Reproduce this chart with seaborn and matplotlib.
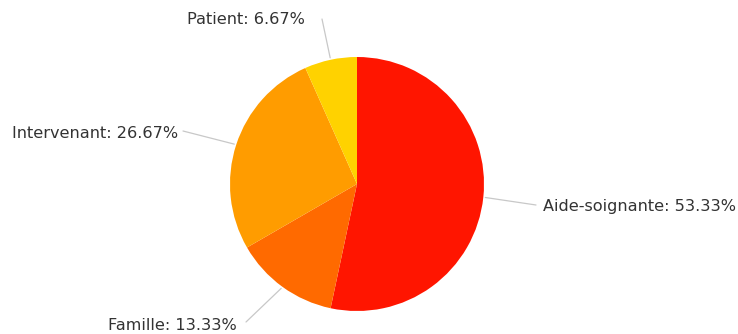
import numpy as np
import matplotlib
matplotlib.use("Agg")
import matplotlib.pyplot as plt
import seaborn as sns

# Data
categories = ['Aide-soignante', 'Famille', 'Intervenant', 'Patient']
counts = [8, 2, 4, 1]
colors = ['#ff1500', '#ff6a00', '#ff9c00', '#ffd200']

# label layout (pixel coords, y from top): text anchor, alignment, connector end
label_pos = [(543, 206, 'left'), (237, 325, 'right'), (178, 134, 'right'), (305, 20, 'right')]
conn_end = [(536, 205), (246, 322), (183, 131), (322, 19)]

sns.set_theme(style="white")
plt.rcParams['font.family'] = ['DejaVu Sans']

W, H = 738, 334
fig = plt.figure(figsize=(W / 100, H / 100), dpi=100)
ax = fig.add_axes([0, 0, 1, 1])

cx, cy, r = 357, H - 184, 127
wedges, _ = ax.pie(counts, colors=colors, startangle=90, counterclock=False,
                   center=(cx, cy), radius=r, frame=True,
                   wedgeprops=dict(linewidth=0))
ax.set_xlim(0, W)
ax.set_ylim(0, H)
ax.set_aspect('equal')
ax.axis('off')

total = sum(counts)
for w, cat, n, (tx, ty, ha), (ex, ey) in zip(wedges, categories, counts, label_pos, conn_end):
    mid = np.deg2rad((w.theta1 + w.theta2) / 2)
    px, py = cx + (r + 2) * np.cos(mid), cy + (r + 2) * np.sin(mid)
    ax.plot([px, ex], [py, H - ey], color='#c8c8c8', lw=0.9, zorder=0)
    ax.text(tx, H - ty, f'{cat}: {n / total * 100:.2f}%', ha=ha, va='center',
            fontsize=11.6, color='#333333')

fig.savefig('out.png', dpi=100)
